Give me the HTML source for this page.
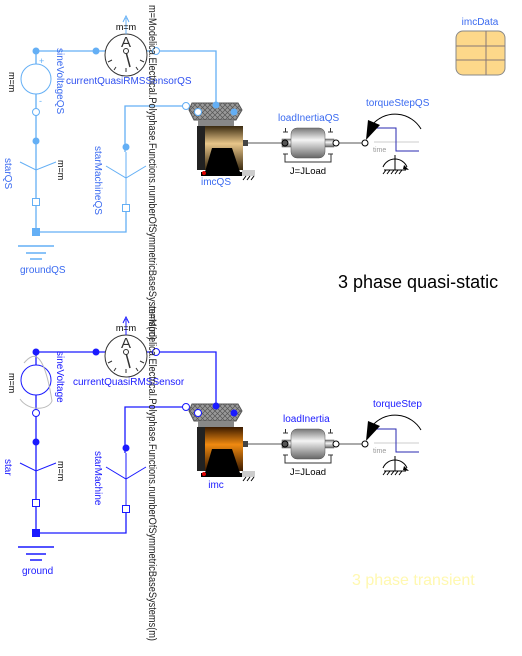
<!DOCTYPE html>
<html><head><meta charset="utf-8"><style>
html,body{margin:0;padding:0;background:#fff;overflow:hidden;}
svg{display:block;font-family:"Liberation Sans",sans-serif;}
</style></head><body>
<svg width="522" height="656" viewBox="0 0 522 656" xmlns="http://www.w3.org/2000/svg">
<defs>
<linearGradient id="grey" x1="0" y1="0" x2="0" y2="1">
<stop offset="0" stop-color="#777"/><stop offset="0.4" stop-color="#f4f4f4"/><stop offset="1" stop-color="#666"/></linearGradient>
<linearGradient id="body" x1="0" y1="0" x2="0" y2="1"><stop offset="0" stop-color="#3a2a10"/><stop offset="0.4" stop-color="#e8c68a"/><stop offset="1" stop-color="#3a2a10"/></linearGradient>
<linearGradient id="body2" x1="0" y1="0" x2="0" y2="1"><stop offset="0" stop-color="#3a1a00"/><stop offset="0.4" stop-color="#f08a10"/><stop offset="1" stop-color="#3a1a00"/></linearGradient>
<pattern id="hatch" width="5" height="5" patternUnits="userSpaceOnUse"><path d="M0 0L5 5M5 0L0 5" stroke="#555" stroke-width="0.7"/></pattern>
<g id="circ">
 <g fill="none" stroke="currentColor" stroke-width="1.3">
  <path d="M36 51H216V105"/>
  <path d="M186 106H125V152"/>
  <path d="M36 51V232H126V208"/>
 </g>
 <circle cx="36" cy="51" r="3.5" fill="currentColor"/>
 <circle cx="96" cy="51" r="3.5" fill="currentColor"/>
 <circle cx="36" cy="141" r="3.5" fill="currentColor"/>
 <circle cx="126" cy="147" r="3.5" fill="currentColor"/>
 <rect x="32" y="228" width="8" height="8" fill="currentColor"/>
 <circle cx="36" cy="79" r="15" fill="#fff" stroke="currentColor" stroke-width="1"/>
 <circle cx="36" cy="112" r="3.5" fill="#fff" stroke="currentColor"/>
 <path d="M20 162L36 170L56 162M36 170V202" fill="none" stroke="currentColor" stroke-width="1"/>
 <rect x="32.5" y="198.5" width="7" height="7" fill="#fff" stroke="currentColor"/>
 <path d="M106 166L126 178L146 166M126 152V206" fill="none" stroke="currentColor" stroke-width="1"/>
 <rect x="122.5" y="204.5" width="7" height="7" fill="#fff" stroke="currentColor"/>
 <path d="M18 246H54M26 253H46M30 259H42" stroke="currentColor" stroke-width="1.5"/>
 <circle cx="126" cy="55" r="21" fill="#fff" stroke="#333" stroke-width="1"/>
 <g stroke="#333" stroke-width="1"><path d="M108 62L112 60M144 62L140 60M126 72V68M114 70L116 67M138 70L136 67"/><path d="M126 52L130 67" stroke-width="1.5"/></g>
 <circle cx="126" cy="51" r="2.5" fill="#fff" stroke="#333"/>
 <text x="126" y="47" font-size="15" text-anchor="middle" fill="#333">A</text>
 <path d="M126 34V18M123 22L126 16L129 22" fill="none" stroke="currentColor" stroke-width="1"/>
 <text x="126" y="30" font-size="9" text-anchor="middle" fill="#000">m=m</text>
 <circle cx="156" cy="51" r="3.5" fill="#fff" stroke="currentColor"/>
 <circle cx="186" cy="106" r="3.5" fill="#fff" stroke="currentColor"/>
 <path d="M192 103H238L242 110L236 120H194L189 110Z" fill="#999" stroke="#555" stroke-width="1"/>
 <path d="M192 103H238L242 110L236 120H194L189 110Z" fill="url(#hatch)"/>
 <rect x="198" y="120" width="36" height="6" fill="#888"/>
 <circle cx="216" cy="105" r="3.5" fill="currentColor"/>
 <circle cx="198" cy="112" r="3.5" fill="#fff" stroke="currentColor"/>
 <circle cx="234" cy="112" r="3.5" fill="currentColor"/>
 <rect x="197" y="126" width="8" height="44" fill="#222"/>
 <rect x="243" y="140" width="5" height="6" fill="#444"/>
 <rect x="201" y="172" width="42" height="4" fill="#000"/>
 <circle cx="204" cy="173" r="2" fill="#d00"/>
 <rect x="242" y="170" width="13" height="6" fill="#ccc"/>
 <path d="M243 180l3-4M247 180l3-4M251 180l3-4" stroke="#000"/>
 <path d="M248 143H285M335 143H365" stroke="#555" stroke-width="1"/>
 <rect x="282" y="139" width="52" height="8" fill="url(#grey)" stroke="#555" stroke-width="0.5"/>
 <rect x="291" y="128" width="34" height="30" rx="6" fill="url(#grey)" stroke="#555" stroke-width="0.5"/>
 <circle cx="285" cy="143" r="3" fill="#555" stroke="#000"/>
 <circle cx="336" cy="143" r="3" fill="#fff" stroke="#000"/>
 <path d="M283 132H288M285.5 128V132M328 132H333M330.5 128V132M283 154H288M328 154H333M285 154V162H331V154" fill="none" stroke="#333" stroke-width="1"/>
 <text x="308" y="174" font-size="9.5" text-anchor="middle" fill="#000">J=JLoad</text>
 <circle cx="365" cy="143" r="3" fill="#fff" stroke="#000"/>
 <path d="M374 142H419" stroke="#ddd" stroke-width="1.5"/>
 <path d="M375 128H396V151H419" fill="none" stroke="#2a2ab0" stroke-width="1"/>
 <path d="M421 129A30 30 0 0 0 372 125" fill="none" stroke="#000"/>
 <path d="M366 140L368 120L380 125Z" fill="#000"/>
 <text x="373" y="152" font-size="7" fill="#999">time</text>
 <path d="M383 167A13 13 0 0 1 407 167" fill="none" stroke="#000"/>
 <path d="M395 155V170M384 170H406M386 170l-3 4M390 170l-3 4M394 170l-3 4M398 170l-3 4M402 170l-3 4" stroke="#000" stroke-width="1"/>
 <path d="M404 165l5 5l-6 -1Z" fill="#000"/>
</g>
</defs>

<g style="color:#64aff5"><use href="#circ"/></g>
<rect x="205" y="126" width="38" height="44" fill="url(#body)"/>
<path d="M212 148H232L240 172H205Z" fill="#000"/>

<g transform="translate(0,301)">
 <g style="color:#1a1aff"><use href="#circ"/></g>
 <rect x="205" y="126" width="38" height="44" fill="url(#body2)"/>
 <path d="M212 148H232L240 172H205Z" fill="#000"/>
 <path d="M24 62C34 50 44 50 52 100C48 110 28 110 20 98" fill="none" stroke="#bbb" stroke-width="1"/>
</g>

<g font-size="10" fill="#3a6af0">
 <text x="66" y="84" fill="#3050f0">currentQuasiRMSSensorQS</text>
 <text transform="translate(57,48) rotate(90)">sineVoltageQS</text>
 <text transform="translate(5,158) rotate(90)">starQS</text>
 <text transform="translate(95,146) rotate(90)">starMachineQS</text>
 <text x="216" y="185" text-anchor="middle">imcQS</text>
 <text x="278" y="121">loadInertiaQS</text>
 <text x="366" y="106">torqueStepQS</text>
 <text x="480" y="25" text-anchor="middle">imcData</text>
 <text x="20" y="273">groundQS</text>
</g>
<g font-size="9" fill="#000">
 <text transform="translate(9,72) rotate(90)">m=m</text>
 <text transform="translate(58,160) rotate(90)">m=m</text>
 <text transform="translate(9,373) rotate(90)">m=m</text>
 <text transform="translate(58,461) rotate(90)">m=m</text>
</g>
<text x="39" y="64" font-size="9" fill="#64aff5">+</text>
<text x="39" y="104" font-size="9" fill="#64aff5">-</text>
<g font-size="10" fill="#1a1aff">
 <text x="73" y="385">currentQuasiRMSSensor</text>
 <text transform="translate(57,351) rotate(90)">sineVoltage</text>
 <text transform="translate(5,459) rotate(90)">star</text>
 <text transform="translate(95,451) rotate(90)">starMachine</text>
 <text x="216" y="488" text-anchor="middle">imc</text>
 <text x="283" y="422">loadInertia</text>
 <text x="373" y="407">torqueStep</text>
 <text x="22" y="574">ground</text>
</g>
<rect x="456" y="31" width="49" height="44" rx="7" fill="#fdd88a" stroke="#888" stroke-width="1"/>
<path d="M486 31V75M456 46H505M456 60H505" stroke="#877" stroke-width="1"/>
<text transform="translate(149,5) rotate(90)" font-size="10.6" fill="#222" textLength="335" lengthAdjust="spacingAndGlyphs">m=Modelica.Electrical.Polyphase.Functions.numberOfSymmetricBaseSystems(m)</text>
<text transform="translate(149,306) rotate(90)" font-size="10.6" fill="#222" textLength="335" lengthAdjust="spacingAndGlyphs">m=Modelica.Electrical.Polyphase.Functions.numberOfSymmetricBaseSystems(m)</text>
<text x="338" y="288" font-size="18" fill="#000">3 phase quasi-static</text>
<text x="352" y="585" font-size="16" fill="#fff8b0">3 phase transient</text>
</svg>
</body></html>
